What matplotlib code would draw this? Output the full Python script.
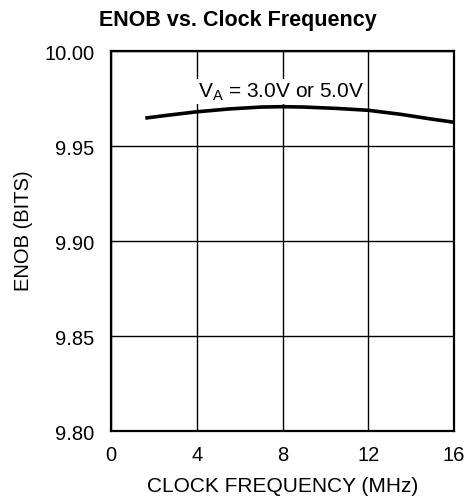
import matplotlib.pyplot as plt

plt.rcParams['font.family'] = ['Liberation Sans', 'DejaVu Sans']

# curve
freq = [1.6, 2.5, 4.0, 5.5, 7.0, 8.0, 9.0, 10.5, 12.0, 13.5, 15.0, 16.0]
enob = [9.9647, 9.9660, 9.9680, 9.9695, 9.9705, 9.9707, 9.9705, 9.9698, 9.9688, 9.9667, 9.9641, 9.9625]

xticks = [0, 4, 8, 12, 16]
yticks = [9.80, 9.85, 9.90, 9.95, 10.00]

fig = plt.figure(figsize=(4.71, 5.02), dpi=100)
ax = fig.add_axes([0.2357, 0.1394, 0.7283, 0.757])

ax.plot(freq, enob, color='black', lw=2.6, solid_capstyle='butt', zorder=3)

ax.set_xlim(0, 16)
ax.set_ylim(9.80, 10.00)
ax.set_xticks(xticks)
ax.set_yticks(yticks)
ax.set_yticklabels([f"{v:.2f}" for v in yticks])
ax.grid(True, color='black', lw=1.0)
ax.tick_params(axis='y', length=0, labelsize=14.5, pad=12)
ax.tick_params(axis='x', length=0, labelsize=14.5, pad=10)
for s in ax.spines.values():
    s.set_linewidth(1.6)

ax.text(4.05, 9.976, r"V$_\mathregular{A}$ = 3.0V or 5.0V", fontsize=15,
        ha='left', va='baseline', zorder=4,
        bbox=dict(facecolor='white', edgecolor='none', pad=1.0))

ax.set_xlabel("CLOCK FREQUENCY (MHz)", fontsize=15, labelpad=9)
ax.set_ylabel("ENOB (BITS)", fontsize=14.5)
ax.yaxis.set_label_coords(-0.227, 0.529)
fig.text(0.505, 0.96, "ENOB vs. Clock Frequency", fontsize=15.5, fontweight='bold',
         ha='center', va='center')

fig.savefig("out.png", dpi=100)
